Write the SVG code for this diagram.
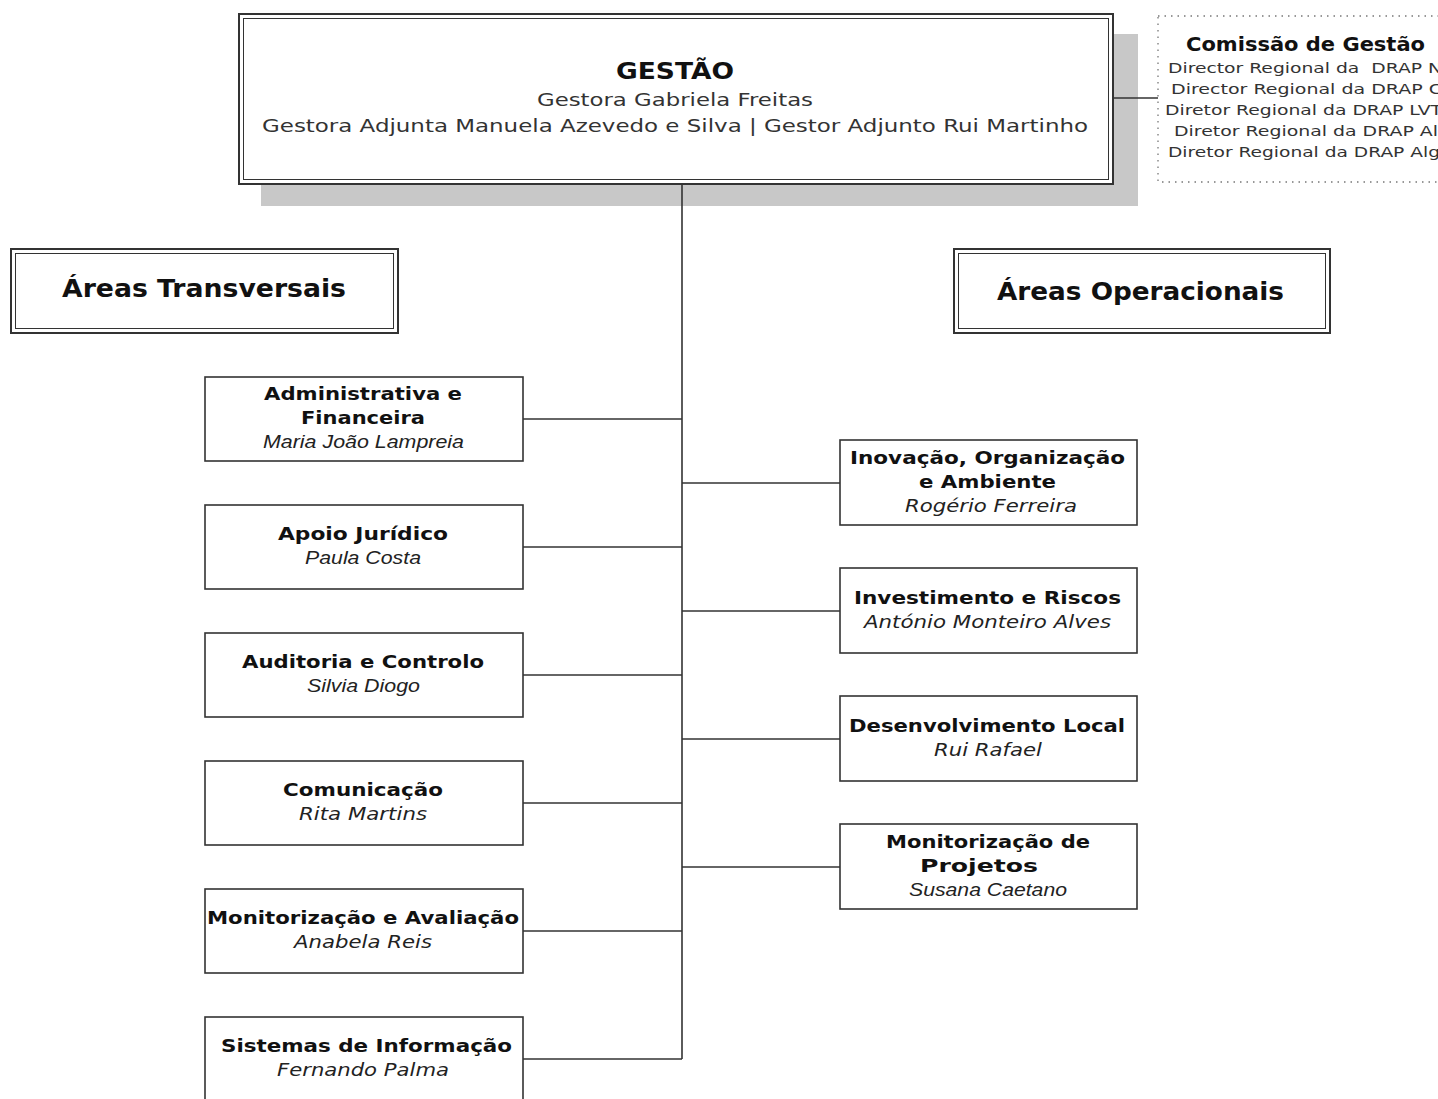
<svg xmlns="http://www.w3.org/2000/svg" width="1438" height="1099" viewBox="0 0 1438 1099">
<style>
.bx{fill:#fff;stroke:#333;stroke-width:1.6}
.dbo{fill:#fff;stroke:#333;stroke-width:2}
.dbi{fill:none;stroke:#333;stroke-width:1}
.ln{stroke:#333;stroke-width:1.6;fill:none}
.t{font-family:"DejaVu Sans",Verdana,sans-serif;font-weight:bold;font-size:18px;fill:#111;text-anchor:middle}
.n{font-family:"Liberation Sans",Arial,sans-serif;font-style:italic;font-size:18px;fill:#222;text-anchor:middle}
.nv{font-family:"DejaVu Sans",Verdana,sans-serif;font-style:italic;font-size:17px;fill:#222;text-anchor:middle}
.g{font-family:"DejaVu Sans",Verdana,sans-serif;font-size:18px;fill:#333;text-anchor:middle}
.c{font-family:"DejaVu Sans",Verdana,sans-serif;font-size:14.5px;fill:#333;white-space:pre}
.h{font-family:"DejaVu Sans",Verdana,sans-serif;font-weight:bold;font-size:23px;fill:#111;text-anchor:middle}
</style>
<rect width="1438" height="1099" fill="#fff"/>
<g id="gestao">
<rect x="261" y="34" width="877" height="172" fill="#c8c8c8"/>
<rect class="dbo" x="239" y="14" width="874" height="170"/>
<rect class="dbi" x="243.5" y="18.5" width="865" height="161"/>
<text class="h" x="675" y="79" textLength="118" lengthAdjust="spacingAndGlyphs">GESTÃO</text>
<text class="g" x="675" y="106" textLength="276" lengthAdjust="spacingAndGlyphs">Gestora Gabriela Freitas</text>
<text class="g" x="675" y="132" textLength="826" lengthAdjust="spacingAndGlyphs">Gestora Adjunta Manuela Azevedo e Silva | Gestor Adjunto Rui Martinho</text>
</g>
<g id="comissao">
<rect x="1158" y="16" width="300" height="166" fill="#fff" stroke="#777" stroke-width="1.3" stroke-dasharray="1.5,5"/>
<text x="1305.5" y="51" textLength="239" lengthAdjust="spacingAndGlyphs" style="font-family:'DejaVu Sans',Verdana,sans-serif;font-weight:bold;font-size:19px;fill:#111;text-anchor:middle">Comissão de Gestão</text>
<text class="c" x="1168" y="73" textLength="274" lengthAdjust="spacingAndGlyphs" xml:space="preserve">Director Regional da  DRAP N</text>
<text class="c" x="1171" y="94" textLength="271" lengthAdjust="spacingAndGlyphs">Director Regional da DRAP C</text>
<text class="c" x="1165" y="115" textLength="277" lengthAdjust="spacingAndGlyphs">Diretor Regional da DRAP LVT</text>
<text class="c" x="1174" y="136" textLength="264" lengthAdjust="spacingAndGlyphs">Diretor Regional da DRAP Al</text>
<text class="c" x="1168" y="157" textLength="272" lengthAdjust="spacingAndGlyphs">Diretor Regional da DRAP Alg</text>
</g>
<g id="transversais">
<rect class="dbo" x="11" y="249" width="387" height="84"/>
<rect class="dbi" x="15.5" y="253.5" width="378" height="75"/>
<text class="t" x="204" y="297" style="font-size:24px" textLength="284" lengthAdjust="spacingAndGlyphs">Áreas Transversais</text>
</g>
<g id="operacionais">
<rect class="dbo" x="954" y="249" width="376" height="84"/>
<rect class="dbi" x="958.5" y="253.5" width="367" height="75"/>
<text class="t" x="1140.5" y="300" style="font-size:24px" textLength="287" lengthAdjust="spacingAndGlyphs">Áreas Operacionais</text>
</g>
<g id="adm">
<rect class="bx" x="205" y="377" width="318" height="84"/>
<text class="t" x="363" y="400" textLength="198" lengthAdjust="spacingAndGlyphs">Administrativa e</text>
<text class="t" x="363" y="424" textLength="124" lengthAdjust="spacingAndGlyphs">Financeira</text>
<text class="n" x="363.5" y="448" textLength="201" lengthAdjust="spacingAndGlyphs">Maria João Lampreia</text>
</g>
<g id="juridico">
<rect class="bx" x="205" y="505" width="318" height="84"/>
<text class="t" x="363" y="540" textLength="170" lengthAdjust="spacingAndGlyphs">Apoio Jurídico</text>
<text class="n" x="363" y="564" textLength="116" lengthAdjust="spacingAndGlyphs">Paula Costa</text>
</g>
<g id="auditoria">
<rect class="bx" x="205" y="633" width="318" height="84"/>
<text class="t" x="363" y="668" textLength="242" lengthAdjust="spacingAndGlyphs">Auditoria e Controlo</text>
<text class="n" x="363.5" y="692" textLength="113" lengthAdjust="spacingAndGlyphs">Silvia Diogo</text>
</g>
<g id="comunicacao">
<rect class="bx" x="205" y="761" width="318" height="84"/>
<text class="t" x="363" y="796" textLength="160" lengthAdjust="spacingAndGlyphs">Comunicação</text>
<text class="nv" x="363" y="820" textLength="128" lengthAdjust="spacingAndGlyphs">Rita Martins</text>
</g>
<g id="monaval">
<rect class="bx" x="205" y="889" width="318" height="84"/>
<text class="t" x="363" y="924" textLength="312" lengthAdjust="spacingAndGlyphs">Monitorização e Avaliação</text>
<text class="nv" x="363" y="948" textLength="138" lengthAdjust="spacingAndGlyphs">Anabela Reis</text>
</g>
<g id="sistemas">
<rect class="bx" x="205" y="1017" width="318" height="90"/>
<text class="t" x="366.5" y="1052" textLength="291" lengthAdjust="spacingAndGlyphs">Sistemas de Informação</text>
<text class="nv" x="363" y="1076" textLength="172" lengthAdjust="spacingAndGlyphs">Fernando Palma</text>
</g>
<g id="inovacao">
<rect class="bx" x="840" y="440" width="297" height="85"/>
<text class="t" x="987.5" y="464" textLength="275" lengthAdjust="spacingAndGlyphs">Inovação, Organização</text>
<text class="t" x="987.5" y="488" textLength="137" lengthAdjust="spacingAndGlyphs">e Ambiente</text>
<text class="nv" x="991" y="512" textLength="172" lengthAdjust="spacingAndGlyphs">Rogério Ferreira</text>
</g>
<g id="investimento">
<rect class="bx" x="840" y="568" width="297" height="85"/>
<text class="t" x="987.5" y="604" textLength="267" lengthAdjust="spacingAndGlyphs">Investimento e Riscos</text>
<text class="nv" x="987.5" y="628" textLength="247" lengthAdjust="spacingAndGlyphs">António Monteiro Alves</text>
</g>
<g id="desenvolvimento">
<rect class="bx" x="840" y="696" width="297" height="85"/>
<text class="t" x="987" y="732" textLength="276" lengthAdjust="spacingAndGlyphs">Desenvolvimento Local</text>
<text class="nv" x="988" y="756" textLength="108" lengthAdjust="spacingAndGlyphs">Rui Rafael</text>
</g>
<g id="monproj">
<rect class="bx" x="840" y="824" width="297" height="85"/>
<text class="t" x="988" y="848" textLength="204" lengthAdjust="spacingAndGlyphs">Monitorização de</text>
<text class="t" x="979" y="872" textLength="118" lengthAdjust="spacingAndGlyphs">Projetos</text>
<text class="n" x="988" y="896" textLength="158" lengthAdjust="spacingAndGlyphs">Susana Caetano</text>
</g>
<g id="connectors">
<line class="ln" x1="682" y1="184" x2="682" y2="1059"/>
<line class="ln" x1="1113" y1="98" x2="1158" y2="98"/>
<line class="ln" x1="523" y1="419" x2="682" y2="419"/>
<line class="ln" x1="523" y1="547" x2="682" y2="547"/>
<line class="ln" x1="523" y1="675" x2="682" y2="675"/>
<line class="ln" x1="523" y1="803" x2="682" y2="803"/>
<line class="ln" x1="523" y1="931" x2="682" y2="931"/>
<line class="ln" x1="523" y1="1059" x2="682" y2="1059"/>
<line class="ln" x1="682" y1="483" x2="840" y2="483"/>
<line class="ln" x1="682" y1="611" x2="840" y2="611"/>
<line class="ln" x1="682" y1="739" x2="840" y2="739"/>
<line class="ln" x1="682" y1="867" x2="840" y2="867"/>
</g>
</svg>
